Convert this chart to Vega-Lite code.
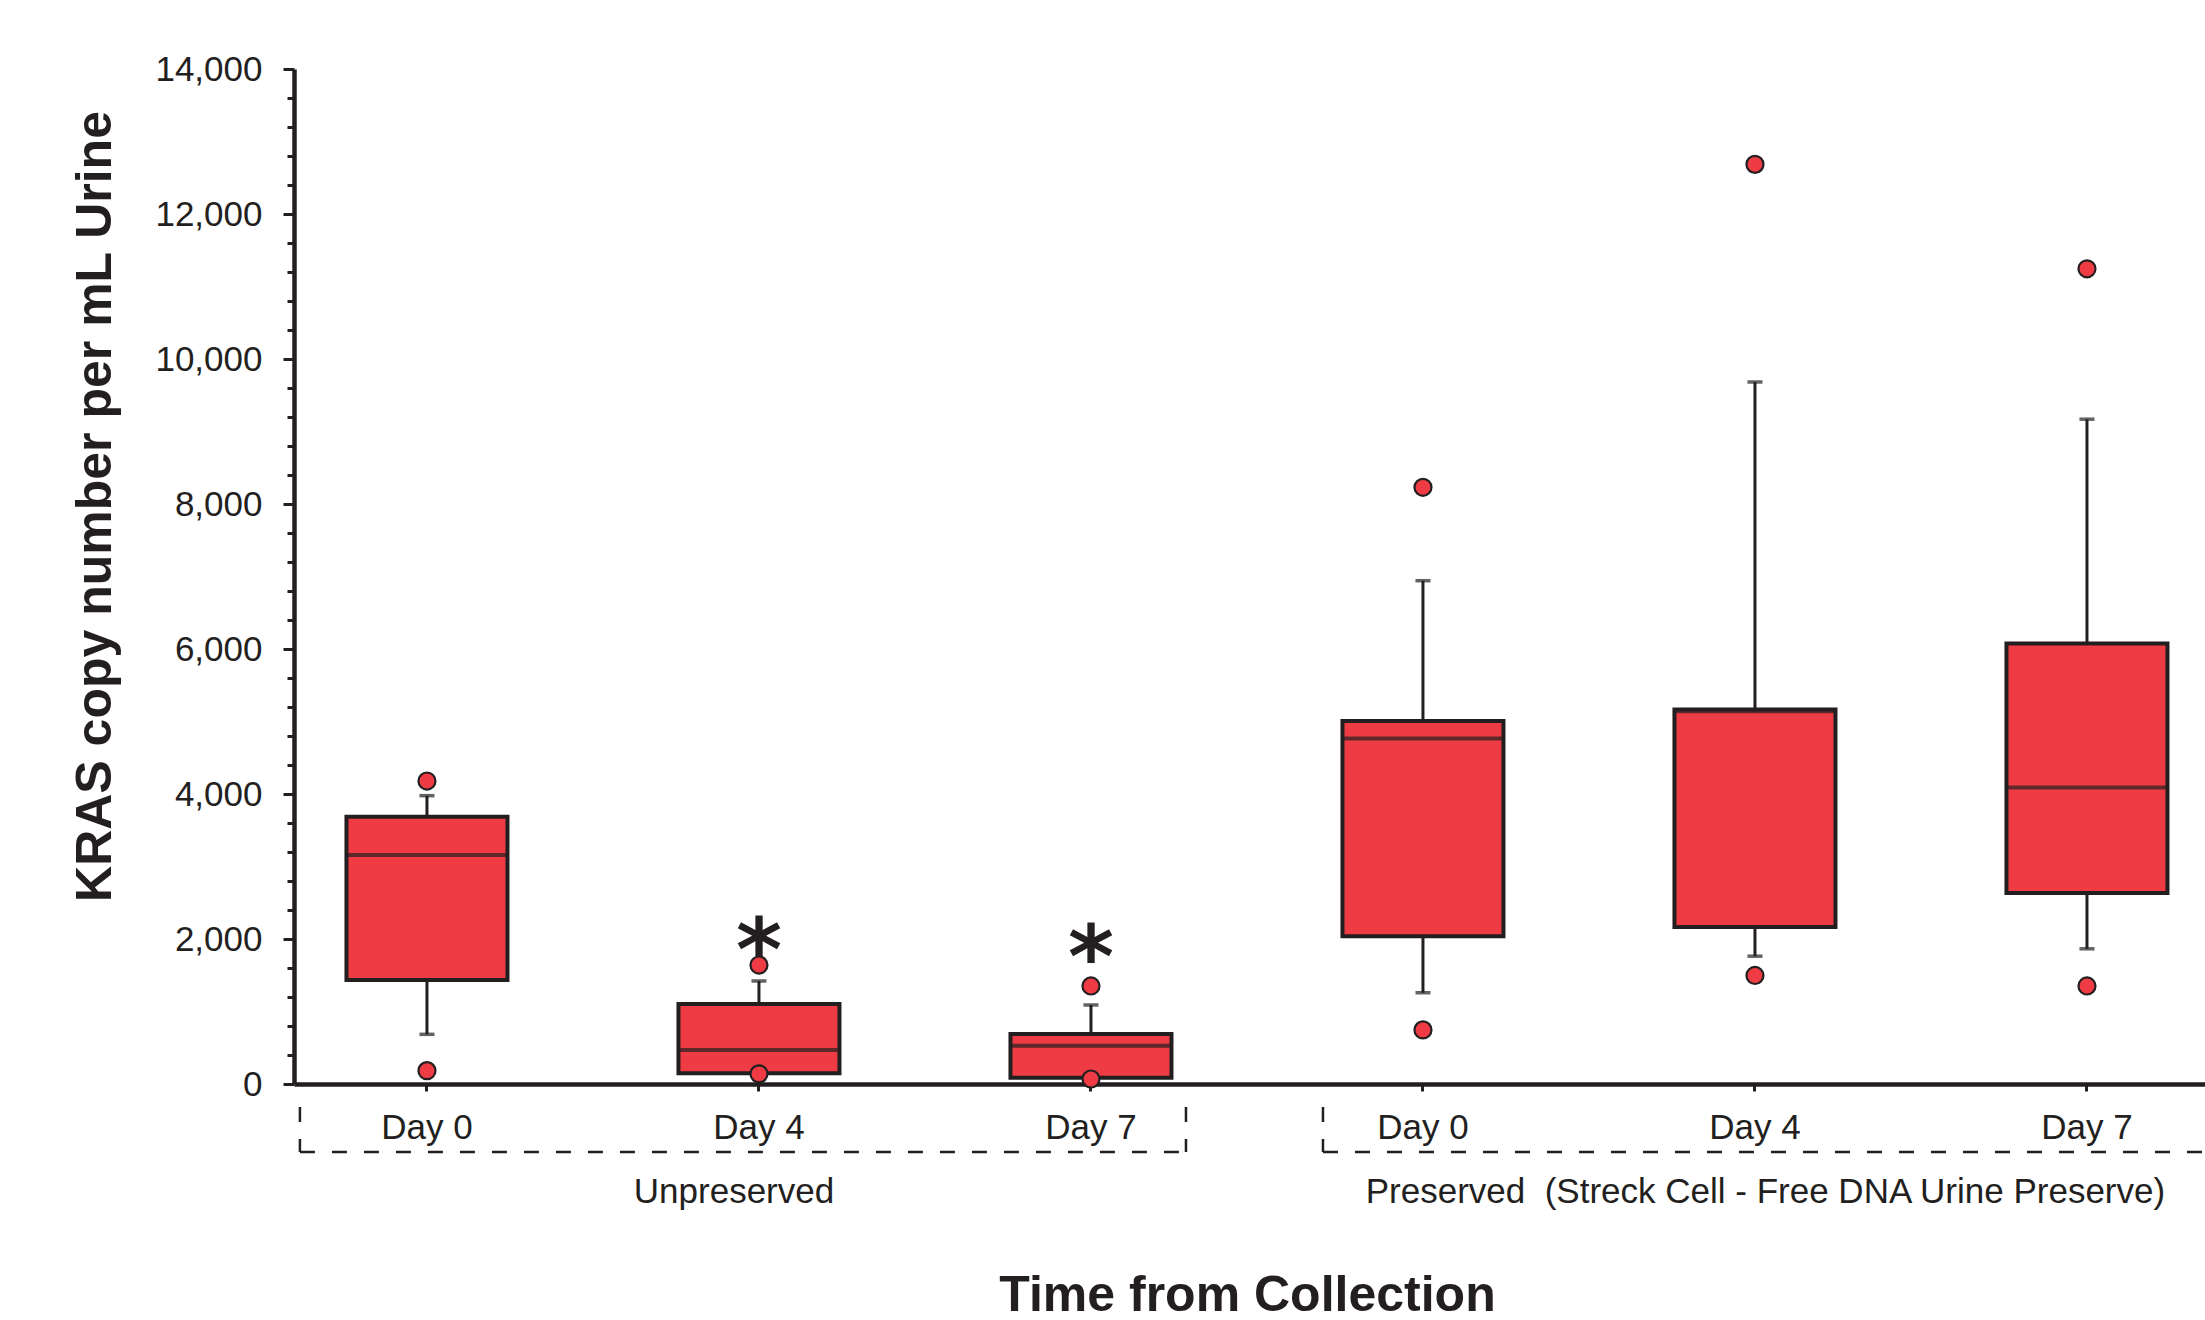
{
  "$schema": "https://vega.github.io/schema/vega-lite/v6.json",
  "width": 1911,
  "height": 1015,
  "autosize": "none",
  "padding": {"left": 294, "top": 69, "right": 0, "bottom": 236},
  "background": "white",
  "config": {
    "view": {"stroke": null},
    "font": "Liberation Sans",
    "axis": {"grid": false},
    "axisX": {
      "labelExpr": "split(datum.label, '|')[1]",
      "labelAngle": 0,
      "labelFontSize": 35,
      "labelColor": "#231F20",
      "labelBaseline": "alphabetic",
      "labelPadding": 47,
      "tickSize": 7,
      "tickWidth": 3,
      "tickColor": "#231F20",
      "domainColor": "#231F20",
      "domainWidth": 4.5,
      "titleFontSize": 50,
      "titleFontWeight": "bold",
      "titleColor": "#231F20",
      "titleBaseline": "alphabetic",
      "titleAlign": "center",
      "titleX": 953,
      "titleY": 226
    },
    "axisY": {
      "labelOverlap": false,
      "labelFlush": false,
      "tickCount": 40,
      "labelColor": "#231F20",
      "labelPadding": 21,
      "tickWidth": 3,
      "tickColor": "#231F20",
      "domainColor": "#231F20",
      "domainWidth": 4.5,
      "titleFontSize": 50,
      "titleFontWeight": "bold",
      "titleColor": "#231F20",
      "titleAngle": -90,
      "titleBaseline": "alphabetic",
      "titleAlign": "center",
      "titleX": -184,
      "titleY": 437
    }
  },
  "datasets": {
    "boxes": [
      {"sample": "Unpreserved|Day 0", "q1": 1434, "median": 3159, "q3": 3687, "lo": 685, "hi": 3977},
      {"sample": "Unpreserved|Day 4", "q1": 148, "median": 469, "q3": 1103, "lo": 148, "hi": 1421},
      {"sample": "Unpreserved|Day 7", "q1": 87, "median": 528, "q3": 690, "lo": 87, "hi": 1090},
      {"sample": "Preserved|Day 0", "q1": 2039, "median": 4767, "q3": 5008, "lo": 1259, "hi": 6942},
      {"sample": "Preserved|Day 4", "q1": 2164, "median": 5140, "q3": 5164, "lo": 1763, "hi": 9683},
      {"sample": "Preserved|Day 7", "q1": 2634, "median": 4090, "q3": 6077, "lo": 1865, "hi": 9170}
    ],
    "outliers": [
      {"sample": "Unpreserved|Day 0", "value": 4179},
      {"sample": "Unpreserved|Day 0", "value": 184},
      {"sample": "Unpreserved|Day 4", "value": 1641},
      {"sample": "Unpreserved|Day 4", "value": 140},
      {"sample": "Unpreserved|Day 7", "value": 1352},
      {"sample": "Unpreserved|Day 7", "value": 69},
      {"sample": "Preserved|Day 0", "value": 8230},
      {"sample": "Preserved|Day 0", "value": 746},
      {"sample": "Preserved|Day 4", "value": 12685},
      {"sample": "Preserved|Day 4", "value": 1497},
      {"sample": "Preserved|Day 7", "value": 11244},
      {"sample": "Preserved|Day 7", "value": 1352}
    ],
    "stars": [
      {"sample": "Unpreserved|Day 4", "at": 1441, "label": "*"},
      {"sample": "Unpreserved|Day 7", "at": 1338, "label": "*"}
    ]
  },
  "layer": [
    {
      "data": {"name": "boxes"},
      "mark": {"type": "rule", "color": "#231F20", "strokeWidth": 3},
      "encoding": {
        "x": {
          "field": "sample", "type": "nominal", "sort": null, "title": "Time from Collection",
          "scale": {
            "domain": ["Unpreserved|Day 0", "Unpreserved|Day 4", "Unpreserved|Day 7", "Preserved|Day 0", "Preserved|Day 4", "Preserved|Day 7"],
            "paddingInner": 0.515, "paddingOuter": 0.1355, "align": 0.583
          }
        },
        "y": {
          "field": "lo", "type": "quantitative", "title": "KRAS copy number per mL Urine",
          "scale": {"domain": [0, 14000], "nice": false, "zero": true},
          "axis": {
            "values": [0,400,800,1200,1600,2000,2400,2800,3200,3600,4000,4400,4800,5200,5600,6000,6400,6800,7200,7600,8000,8400,8800,9200,9600,10000,10400,10800,11200,11600,12000,12400,12800,13200,13600,14000],
            "tickCount": 40,
            "labelExpr": "datum.value % 2000 === 0 ? format(datum.value, ',') : ''",
            "labelOverlap": false,
            "labelFlush": false,
            "labelBound": false,
            "labelFontSize": {"condition": {"test": "datum.value % 2000 !== 0", "value": 0}, "value": 35},
            "tickSize": {"condition": {"test": "datum.value % 2000 !== 0", "value": 7}, "value": 11}
          }
        },
        "y2": {"field": "hi"}
      }
    },
    {
      "data": {"name": "boxes"},
      "transform": [{"fold": ["lo", "hi"], "as": ["end", "whisker"]}],
      "mark": {"type": "tick", "color": "#231F20", "size": 15, "thickness": 3.5},
      "encoding": {
        "x": {"field": "sample", "type": "nominal", "sort": null, "title": "Time from Collection"},
        "y": {"field": "whisker", "type": "quantitative", "title": "KRAS copy number per mL Urine"}
      }
    },
    {
      "data": {"name": "boxes"},
      "mark": {"type": "bar", "fill": "#EE3B44", "stroke": "#231F20", "strokeWidth": 4},
      "encoding": {
        "x": {"field": "sample", "type": "nominal", "sort": null, "title": "Time from Collection"},
        "y": {"field": "q1", "type": "quantitative", "title": "KRAS copy number per mL Urine"},
        "y2": {"field": "q3"}
      }
    },
    {
      "data": {"name": "boxes"},
      "mark": {"type": "tick", "color": "#231F20", "size": 161, "thickness": 4},
      "encoding": {
        "x": {"field": "sample", "type": "nominal", "sort": null, "title": "Time from Collection"},
        "y": {"field": "median", "type": "quantitative", "title": "KRAS copy number per mL Urine"}
      }
    },
    {
      "data": {"name": "outliers"},
      "mark": {"type": "point", "shape": "circle", "filled": true, "fill": "#EE3B44", "stroke": "#231F20", "strokeWidth": 2.2, "size": 290, "opacity": 1},
      "encoding": {
        "x": {"field": "sample", "type": "nominal", "sort": null, "title": "Time from Collection"},
        "y": {"field": "value", "type": "quantitative", "title": "KRAS copy number per mL Urine"}
      }
    },
    {
      "data": {"name": "stars"},
      "mark": {"type": "text", "font": "DejaVu Sans", "fontWeight": "bold", "fontSize": 88, "baseline": "alphabetic", "align": "center", "color": "#231F20"},
      "encoding": {
        "x": {"field": "sample", "type": "nominal", "sort": null, "title": "Time from Collection"},
        "y": {"field": "at", "type": "quantitative", "title": "KRAS copy number per mL Urine"},
        "text": {"field": "label"}
      }
    },
    {
      "data": {"values": [{"from": "Unpreserved|Day 0", "to": "Unpreserved|Day 7"}]},
      "mark": {"type": "rule", "color": "#231F20", "strokeWidth": 2.5, "strokeDash": [15, 17]},
      "encoding": {
        "x": {"field": "from", "type": "nominal", "bandPosition": -0.289, "title": "Time from Collection"},
        "y": {"datum": -317, "type": "quantitative", "title": "KRAS copy number per mL Urine"},
        "y2": {"datum": -938}
      }
    },
    {
      "data": {"values": [{"from": "Unpreserved|Day 0", "to": "Unpreserved|Day 7"}]},
      "mark": {"type": "rule", "color": "#231F20", "strokeWidth": 2.5, "strokeDash": [15, 17]},
      "encoding": {
        "x": {"field": "to", "type": "nominal", "bandPosition": 1.09, "title": "Time from Collection"},
        "y": {"datum": -317, "type": "quantitative", "title": "KRAS copy number per mL Urine"},
        "y2": {"datum": -938}
      }
    },
    {
      "data": {"values": [{"from": "Unpreserved|Day 0", "to": "Unpreserved|Day 7"}]},
      "mark": {"type": "rule", "color": "#231F20", "strokeWidth": 2.5, "strokeDash": [15, 17]},
      "encoding": {
        "x": {"field": "from", "type": "nominal", "bandPosition": -0.289, "title": "Time from Collection"},
        "x2": {"field": "to", "bandPosition": 1.09},
        "y": {"datum": -938, "type": "quantitative", "title": "KRAS copy number per mL Urine"}
      }
    },
    {
      "data": {"values": [{"from": "Preserved|Day 0", "to": "Preserved|Day 7"}]},
      "mark": {"type": "rule", "color": "#231F20", "strokeWidth": 2.5, "strokeDash": [15, 17]},
      "encoding": {
        "x": {"field": "from", "type": "nominal", "bandPosition": -0.121, "title": "Time from Collection"},
        "y": {"datum": -317, "type": "quantitative", "title": "KRAS copy number per mL Urine"},
        "y2": {"datum": -938}
      }
    },
    {
      "data": {"values": [{"from": "Preserved|Day 0", "to": "Preserved|Day 7"}]},
      "mark": {"type": "rule", "color": "#231F20", "strokeWidth": 2.5, "strokeDash": [15, 17]},
      "encoding": {
        "x": {"field": "from", "type": "nominal", "bandPosition": -0.121, "title": "Time from Collection"},
        "x2": {"field": "to", "bandPosition": 1.3},
        "y": {"datum": -938, "type": "quantitative", "title": "KRAS copy number per mL Urine"}
      }
    },
    {
      "data": {"values": [{"anchor": "Unpreserved|Day 4", "label": "Unpreserved"}]},
      "mark": {"type": "text", "fontSize": 35, "baseline": "alphabetic", "align": "center", "color": "#231F20"},
      "encoding": {
        "x": {"field": "anchor", "type": "nominal", "bandPosition": 0.345, "title": "Time from Collection"},
        "y": {"datum": -1641, "type": "quantitative", "title": "KRAS copy number per mL Urine"},
        "text": {"field": "label"}
      }
    },
    {
      "data": {"values": [{"anchor": "Preserved|Day 4", "label": "Preserved\u00a0 (Streck Cell - Free DNA Urine Preserve)"}]},
      "mark": {"type": "text", "fontSize": 35, "baseline": "alphabetic", "align": "center", "color": "#231F20"},
      "encoding": {
        "x": {"field": "anchor", "type": "nominal", "bandPosition": 0.565, "title": "Time from Collection"},
        "y": {"datum": -1641, "type": "quantitative", "title": "KRAS copy number per mL Urine"},
        "text": {"field": "label"}
      }
    }
  ]
}
